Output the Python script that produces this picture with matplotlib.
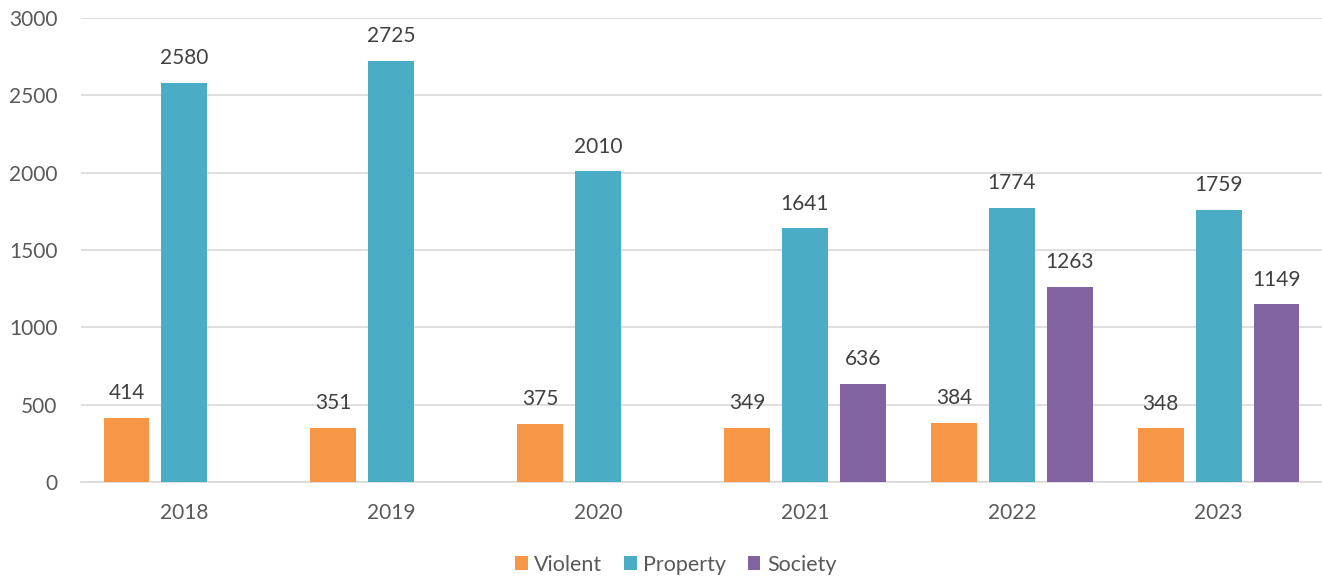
import numpy as np
import matplotlib.pyplot as plt

plt.rcParams['font.family'] = ['Lato', 'DejaVu Sans']

years = ['2018', '2019', '2020', '2021', '2022', '2023']
violent = [414, 351, 375, 349, 384, 348]
property_ = [2580, 2725, 2010, 1641, 1774, 1759]
society = [np.nan, np.nan, np.nan, 636, 1263, 1149]

colors = ['#F79646', '#4BACC6', '#8064A2']
names = ['Violent', 'Property', 'Society']

fig = plt.figure(figsize=(13.22, 5.82), dpi=100)
ax = fig.add_axes([0.0613, 0.1718, 0.9387, 0.797])

x = np.arange(len(years))
w = 0.222
off = 0.28
for i, (vals, c, n) in enumerate(zip([violent, property_, society], colors, names)):
    xs = x + (i - 1) * off
    ax.bar(xs, vals, w, color=c, label=n, zorder=3)
    for xx, v in zip(xs, vals):
        if not np.isnan(v):
            ax.text(xx, v + 95, str(int(v)), ha='center', va='bottom', fontsize=15, color='#404040')

ax.set_xlim(-0.5, 5.5)
ax.set_ylim(0, 3000)
ax.set_yticks(range(0, 3001, 500))
ax.set_xticks(x)
ax.set_xticklabels(years)
ax.tick_params(length=0, labelsize=15, colors='#595959')
ax.tick_params(axis='x', pad=15)
ax.tick_params(axis='y', pad=17)
ax.grid(axis='y', color='#D9D9D9', lw=1.2, zorder=0)
for s in ['top', 'right', 'left']:
    ax.spines[s].set_visible(False)
ax.spines['bottom'].set_color('#D9D9D9')
ax.spines['bottom'].set_linewidth(1.2)

fig.legend(loc='center', bbox_to_anchor=(0.511, 0.03), ncol=3, frameon=False,
           fontsize=15.5, handlelength=0.6, handleheight=0.6, handletextpad=0.3,
           columnspacing=1.0, labelcolor='#595959')

fig.savefig('out.png', dpi=100)
